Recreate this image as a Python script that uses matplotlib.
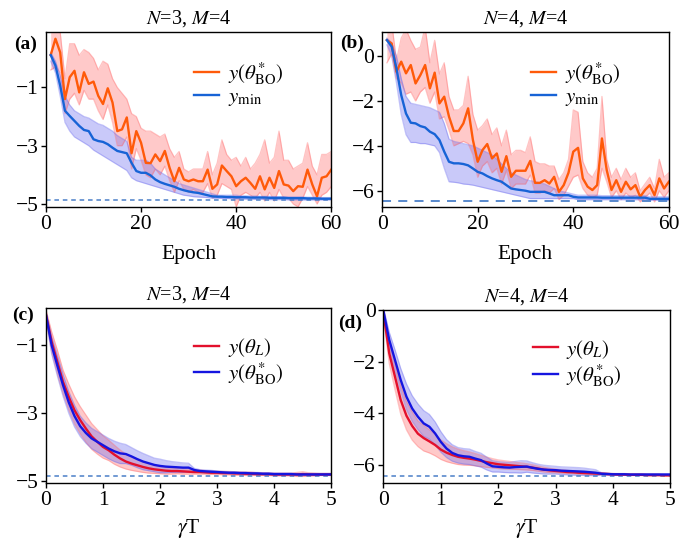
import numpy as np
import matplotlib

matplotlib.use("Agg")
import matplotlib.pyplot as plt

plt.rcParams["font.family"] = ["Liberation Serif", "DejaVu Serif"]
plt.rcParams["mathtext.fontset"] = "stix"
plt.rcParams["axes.linewidth"] = 1.0

# ---- (a) N=3, M=4, vs epoch ----
epochs = list(range(1, 61))
a_bo = [0.11, 0.67, 0.2, -1.4, -0.65, -0.43, -1.17, -0.48, -0.88, -0.8,
        -1.29, -1.57, -1.03, -1.52, -2.5, -2.44, -2.03, -3.26, -2.5, -2.9,
        -3.59, -3.6, -3.3, -3.53, -3.18, -3.76, -4.22, -3.76, -4.16, -4.22,
        -4.16, -4.22, -4.22, -3.82, -4.48, -4.33, -3.68, -3.87, -4.05, -4.39,
        -4.22, -4.1, -4.28, -4.48, -4.05, -4.5, -4.1, -4.45, -3.87, -4.33,
        -4.37, -4.56, -4.39, -4.41, -3.82, -4.33, -4.74, -4.1, -4.05, -3.82]
a_bo_hi = [1.0, 1.3, 0.9, -0.7, 0.5, 0.5, 0.1, 0.3, 0.2, 0.0,
           -0.4, -0.1, -0.2, -0.7, -1.0, -1.2, -1.4, -1.9, -2.0, -2.4,
           -2.5, -2.5, -2.6, -2.7, -2.6, -3.1, -3.4, -3.2, -3.8, -3.9,
           -3.8, -3.8, -3.8, -3.2, -4.0, -3.6, -2.8, -3.3, -3.5, -3.4,
           -3.7, -3.4, -3.8, -3.6, -3.3, -2.8, -3.6, -3.4, -2.5, -3.5,
           -3.5, -3.8, -3.7, -3.6, -2.9, -3.7, -4.0, -3.3, -3.3, -3.2]
a_bo_lo = [-0.4, -0.3, -0.5, -1.9, -1.4, -1.2, -1.6, -1.1, -1.4, -1.4,
           -1.8, -2.1, -1.6, -2.2, -3.0, -3.0, -2.7, -3.8, -3.1, -3.5,
           -4.0, -4.1, -3.8, -4.0, -3.7, -4.2, -4.6, -4.2, -4.5, -4.6,
           -4.5, -4.6, -4.6, -4.3, -4.8, -4.7, -4.3, -4.4, -4.5, -5.1,
           -4.7, -4.6, -4.7, -4.8, -4.6, -4.9, -4.6, -4.9, -4.5, -4.8,
           -4.8, -5.0, -5.1, -4.8, -4.4, -4.7, -5.0, -4.7, -4.6, -4.4]
a_min = [0.11, -0.25, -0.94, -1.8, -1.98, -2.15, -2.32, -2.46, -2.5, -2.78,
         -2.84, -2.87, -2.95, -3.07, -3.18, -3.22, -3.26, -3.59, -3.87, -3.93,
         -3.93, -4.02, -4.16, -4.25, -4.31, -4.36, -4.41, -4.48, -4.53, -4.57,
         -4.6, -4.62, -4.66, -4.7, -4.74, -4.75, -4.75, -4.76, -4.76, -4.77,
         -4.77, -4.77, -4.78, -4.78, -4.78, -4.78, -4.79, -4.79, -4.79, -4.79,
         -4.8, -4.8, -4.8, -4.8, -4.81, -4.81, -4.81, -4.82, -4.82, -4.82]
a_min_hi = [0.2, -0.1, -0.6, -1.3, -1.6, -1.8, -1.9, -2.0, -2.05, -2.15,
            -2.25, -2.3, -2.4, -2.5, -2.65, -2.75, -2.85, -3.4, -3.5, -3.5,
            -3.5, -3.6, -3.8, -3.9, -4.0, -4.1, -4.2, -4.3, -4.35, -4.4,
            -4.45, -4.5, -4.55, -4.6, -4.65, -4.7, -4.7, -4.7, -4.7, -4.7,
            -4.72, -4.72, -4.73, -4.73, -4.74, -4.74, -4.74, -4.75, -4.75, -4.75,
            -4.76, -4.76, -4.76, -4.76, -4.77, -4.77, -4.77, -4.78, -4.78, -4.78]
a_min_lo = [-0.1, -0.5, -1.3, -2.2, -2.5, -2.7, -2.8, -2.9, -3.0, -3.15,
            -3.25, -3.35, -3.45, -3.55, -3.65, -3.75, -3.85, -4.1, -4.2, -4.25,
            -4.3, -4.35, -4.4, -4.45, -4.5, -4.55, -4.6, -4.65, -4.7, -4.72,
            -4.75, -4.76, -4.77, -4.78, -4.8, -4.8, -4.81, -4.81, -4.82, -4.82,
            -4.83, -4.83, -4.83, -4.84, -4.84, -4.84, -4.85, -4.85, -4.85, -4.85,
            -4.86, -4.86, -4.86, -4.86, -4.86, -4.86, -4.86, -4.86, -4.86, -4.86]
a_ref = -4.88

# ---- (b) N=4, M=4, vs epoch ----
b_bo = [0.71, 0.56, -0.7, -0.25, -0.77, -0.4, -1.22, -0.85, -0.4, -1.44,
        -0.74, -2.11, -1.81, -2.7, -3.34, -3.34, -3.0, -2.33, -3.74, -4.71,
        -4.19, -3.92, -4.56, -4.34, -5.16, -4.46, -5.38, -5.11, -5.11, -5.11,
        -4.67, -5.65, -5.65, -5.53, -5.68, -5.38, -6.05, -5.75, -5.2, -4.26,
        -4.09, -5.45, -5.82, -5.97, -5.75, -3.67, -5.08, -5.97, -5.53, -6.05,
        -5.6, -5.94, -5.75, -6.27, -5.97, -5.75, -6.2, -5.45, -5.9, -5.6]
b_bo_hi = [1.5, 1.5, -0.2, 0.8, 1.2, 0.7, 0.3, 0.4, 1.3, -0.3,
           0.7, -0.8, -0.3, -1.8, -2.4, -2.4, -2.2, -0.9, -2.6, -3.3,
           -3.1, -2.8, -3.5, -3.2, -4.0, -3.3, -4.4, -4.2, -4.2, -4.3,
           -3.6, -4.7, -4.8, -4.8, -4.9, -4.9, -5.5, -5.2, -4.6, -2.4,
           -2.5, -4.7, -5.2, -5.4, -5.0, -1.8, -4.6, -5.4, -5.0, -5.5,
           -5.0, -5.4, -5.2, -6.0, -5.7, -5.4, -5.9, -4.6, -5.4, -5.2]
b_bo_lo = [-0.3, 0.1, -1.0, -1.2, -1.7, -1.6, -2.0, -1.6, -1.4, -2.1,
           -1.6, -2.8, -2.7, -3.3, -4.0, -3.9, -3.8, -3.9, -4.4, -5.4,
           -4.9, -4.7, -5.2, -5.0, -5.7, -5.1, -5.9, -5.7, -5.7, -5.7,
           -5.3, -6.1, -6.1, -6.0, -6.1, -5.9, -6.4, -6.2, -5.8, -5.4,
           -5.3, -5.9, -6.2, -6.3, -6.2, -5.0, -5.6, -6.3, -6.0, -6.4,
           -6.1, -6.3, -6.2, -6.5, -6.3, -6.1, -6.5, -6.0, -6.3, -6.0]
b_min = [0.71, 0.42, -0.55, -1.74, -2.56, -2.97, -3.0, -3.12, -3.18, -3.37,
         -3.48, -3.74, -4.26, -4.71, -4.78, -4.78, -4.81, -4.87, -5.01, -5.16,
         -5.23, -5.35, -5.45, -5.53, -5.6, -5.75, -5.9, -5.94, -5.97, -6.0,
         -6.05, -6.05, -6.05, -6.05, -6.12, -6.2, -6.2, -6.2, -6.2, -6.27,
         -6.3, -6.3, -6.3, -6.3, -6.3, -6.31, -6.31, -6.31, -6.31, -6.31,
         -6.31, -6.31, -6.31, -6.31, -6.31, -6.36, -6.36, -6.36, -6.36, -6.36]
b_min_hi = [0.8, 0.6, 0.0, -1.0, -1.8, -2.1, -2.15, -2.2, -2.25, -2.3,
            -2.4, -2.5, -3.0, -3.7, -3.8, -3.85, -3.9, -3.95, -4.0, -4.1,
            -4.2, -4.3, -4.4, -4.6, -4.8, -5.0, -5.2, -5.3, -5.4, -5.5,
            -5.55, -5.6, -5.65, -5.7, -5.8, -5.9, -6.0, -6.05, -6.1, -6.15,
            -6.2, -6.2, -6.2, -6.2, -6.2, -6.22, -6.22, -6.22, -6.22, -6.22,
            -6.22, -6.22, -6.22, -6.22, -6.22, -6.27, -6.27, -6.27, -6.27, -6.27]
b_min_lo = [0.5, 0.0, -1.2, -2.6, -3.5, -3.85, -3.85, -3.9, -3.9, -3.95,
            -4.0, -4.3, -5.0, -5.6, -5.62, -5.65, -5.7, -5.72, -5.75, -5.8,
            -5.85, -5.9, -5.95, -6.0, -6.05, -6.1, -6.15, -6.2, -6.25, -6.3,
            -6.35, -6.35, -6.35, -6.35, -6.35, -6.35, -6.35, -6.35, -6.35, -6.35,
            -6.4, -6.4, -6.4, -6.4, -6.4, -6.4, -6.4, -6.4, -6.4, -6.4,
            -6.4, -6.4, -6.4, -6.4, -6.4, -6.42, -6.42, -6.42, -6.42, -6.42]
b_ref = -6.47

# ---- (c), (d) vs gamma T ----
gT = [0.0, 0.1, 0.2, 0.3, 0.4, 0.5, 0.6, 0.7, 0.8, 0.9,
      1.0, 1.1, 1.2, 1.3, 1.4, 1.5, 1.6, 1.7, 1.8, 1.9,
      2.0, 2.1, 2.2, 2.3, 2.4, 2.5, 2.6, 2.7, 2.8, 2.9,
      3.0, 3.1, 3.2, 3.3, 3.4, 3.5, 3.6, 3.7, 3.8, 3.9,
      4.0, 4.1, 4.2, 4.3, 4.4, 4.5, 4.6, 4.7, 4.8, 4.9, 5.0]

c_L = [-0.1, -0.9, -1.49, -2.08, -2.52, -2.91, -3.2, -3.45, -3.68, -3.84,
       -3.99, -4.09, -4.22, -4.33, -4.42, -4.48, -4.53, -4.58, -4.62, -4.65,
       -4.67, -4.69, -4.7, -4.7, -4.71, -4.72, -4.73, -4.73, -4.74, -4.75,
       -4.75, -4.76, -4.76, -4.77, -4.77, -4.78, -4.78, -4.79, -4.79, -4.79,
       -4.8, -4.8, -4.8, -4.8, -4.8, -4.79, -4.8, -4.8, -4.8, -4.8, -4.8]
c_L_sd = [0.15, 0.3, 0.35, 0.35, 0.38, 0.4, 0.4, 0.4, 0.38, 0.36,
          0.33, 0.3, 0.28, 0.25, 0.22, 0.2, 0.18, 0.16, 0.14, 0.12,
          0.11, 0.1, 0.09, 0.08, 0.08, 0.07, 0.06, 0.06, 0.05, 0.05,
          0.05, 0.05, 0.05, 0.05, 0.05, 0.05, 0.05, 0.04, 0.04, 0.04,
          0.04, 0.04, 0.04, 0.04, 0.06, 0.07, 0.05, 0.04, 0.03, 0.03, 0.03]
c_BO = [-0.1, -1.0, -1.6, -2.18, -2.68, -3.08, -3.38, -3.58, -3.74, -3.84,
        -3.94, -4.04, -4.12, -4.18, -4.2, -4.27, -4.35, -4.42, -4.47, -4.52,
        -4.55, -4.57, -4.58, -4.59, -4.6, -4.6, -4.67, -4.7, -4.71, -4.72,
        -4.73, -4.74, -4.75, -4.75, -4.76, -4.76, -4.77, -4.77, -4.78, -4.78,
        -4.79, -4.79, -4.79, -4.79, -4.8, -4.8, -4.8, -4.8, -4.8, -4.8, -4.8]
c_BO_sd = [0.1, 0.25, 0.3, 0.32, 0.32, 0.32, 0.3, 0.3, 0.3, 0.3,
           0.3, 0.3, 0.3, 0.3, 0.28, 0.26, 0.25, 0.24, 0.22, 0.2,
           0.2, 0.18, 0.16, 0.15, 0.14, 0.13, 0.05, 0.04, 0.04, 0.04,
           0.03, 0.03, 0.03, 0.03, 0.03, 0.03, 0.03, 0.03, 0.03, 0.03,
           0.03, 0.03, 0.03, 0.03, 0.03, 0.03, 0.03, 0.03, 0.03, 0.03, 0.03]
c_ref = -4.85

d_L = [-0.1, -1.67, -2.58, -3.49, -4.1, -4.5, -4.8, -4.97, -5.1, -5.24,
       -5.42, -5.54, -5.63, -5.7, -5.74, -5.77, -5.81, -5.86, -5.91, -5.95,
       -5.99, -6.01, -6.03, -6.05, -6.07, -6.09, -6.12, -6.16, -6.2, -6.23,
       -6.25, -6.27, -6.29, -6.3, -6.32, -6.33, -6.34, -6.35, -6.36, -6.37,
       -6.38, -6.39, -6.39, -6.4, -6.4, -6.4, -6.41, -6.41, -6.41, -6.42, -6.42]
d_L_sd = [0.2, 0.4, 0.5, 0.55, 0.55, 0.55, 0.5, 0.5, 0.45, 0.42,
          0.38, 0.35, 0.32, 0.3, 0.28, 0.26, 0.24, 0.22, 0.2, 0.18,
          0.17, 0.16, 0.15, 0.14, 0.13, 0.12, 0.11, 0.1, 0.09, 0.08,
          0.07, 0.06, 0.06, 0.05, 0.05, 0.05, 0.05, 0.04, 0.04, 0.04,
          0.03, 0.03, 0.03, 0.03, 0.03, 0.03, 0.03, 0.03, 0.03, 0.03, 0.03]
d_BO = [-0.05, -1.15, -1.93, -2.71, -3.36, -3.82, -4.14, -4.4, -4.53, -4.79,
        -5.12, -5.38, -5.55, -5.64, -5.68, -5.7, -5.77, -5.83, -5.96, -6.07,
        -6.09, -6.11, -6.12, -6.1, -6.09, -6.08, -6.13, -6.17, -6.2, -6.21,
        -6.22, -6.24, -6.25, -6.26, -6.27, -6.28, -6.3, -6.32, -6.36, -6.37,
        -6.38, -6.38, -6.38, -6.39, -6.39, -6.39, -6.39, -6.39, -6.39, -6.39, -6.39]
d_BO_sd = [0.15, 0.3, 0.4, 0.45, 0.5, 0.5, 0.5, 0.5, 0.48, 0.45,
           0.4, 0.35, 0.32, 0.3, 0.3, 0.3, 0.28, 0.27, 0.25, 0.22,
           0.2, 0.2, 0.2, 0.22, 0.24, 0.22, 0.2, 0.18, 0.17, 0.16,
           0.15, 0.15, 0.15, 0.15, 0.15, 0.14, 0.13, 0.12, 0.04, 0.03,
           0.03, 0.03, 0.03, 0.03, 0.03, 0.03, 0.03, 0.03, 0.03, 0.03, 0.03]
d_ref = -6.46

ORANGE = "#ff5a0a"
BLUE_A = "#1763d6"
RED = "#e3102c"
BLUE_C = "#1515e0"
PINK = "#ff6b6b"
LAV = "#6b6bef"
REFC = "#4a7fc8"

fig = plt.figure(figsize=(6.96, 5.43), dpi=100)
ax_a = fig.add_axes([0.066, 0.619, 0.410, 0.322])
ax_b = fig.add_axes([0.549, 0.619, 0.412, 0.322])
ax_c = fig.add_axes([0.066, 0.110, 0.410, 0.323])
ax_d = fig.add_axes([0.551, 0.110, 0.412, 0.319])


def band(ax, x, lo, hi, color):
    ax.fill_between(x, lo, hi, color=color, alpha=0.36, lw=0)
    ax.plot(x, lo, color=color, alpha=0.4, lw=0.9)
    ax.plot(x, hi, color=color, alpha=0.4, lw=0.9)


# (a)
band(ax_a, epochs, a_bo_lo, a_bo_hi, PINK)
band(ax_a, epochs, a_min_lo, a_min_hi, LAV)
ax_a.axhline(a_ref, color=REFC, lw=1.1, ls=(0, (3, 2.5)))
ax_a.plot(epochs, a_bo, color=ORANGE, lw=1.7, label=r"$y(\theta^{*}_{\rm BO})$")
ax_a.plot(epochs, a_min, color=BLUE_A, lw=1.7, label=r"$y_{\rm min}$")
ax_a.set_xlim(0, 60)
ax_a.set_ylim(-5.1, 0.9)
ax_a.set_yticks([-1, -3, -5])
ax_a.set_xticks([0, 20, 40, 60])
ax_a.set_xlabel("Epoch", fontsize=15.5, labelpad=8)

# (b)
band(ax_b, epochs, b_bo_lo, b_bo_hi, PINK)
band(ax_b, epochs, b_min_lo, b_min_hi, LAV)
ax_b.axhline(b_ref, color=REFC, lw=1.3, ls=(0, (5, 4)))
ax_b.plot(epochs, b_bo, color=ORANGE, lw=1.7, label=r"$y(\theta^{*}_{\rm BO})$")
ax_b.plot(epochs, b_min, color=BLUE_A, lw=1.7, label=r"$y_{\rm min}$")
ax_b.set_xlim(0, 60)
ax_b.set_ylim(-6.72, 1.07)
ax_b.set_yticks([0, -2, -4, -6])
ax_b.set_xticks([0, 20, 40, 60])
ax_b.set_xlabel("Epoch", fontsize=15.5, labelpad=8)

# (c)
c_L_arr, c_BO_arr = np.array(c_L), np.array(c_BO)
band(ax_c, gT, c_L_arr - c_L_sd, c_L_arr + c_L_sd, PINK)
band(ax_c, gT, c_BO_arr - c_BO_sd, c_BO_arr + c_BO_sd, LAV)
ax_c.axhline(c_ref, color=REFC, lw=1.1, ls=(0, (3, 2.5)))
ax_c.plot(gT, c_L, color=RED, lw=1.7, label=r"$y(\theta_L)$")
ax_c.plot(gT, c_BO, color=BLUE_C, lw=1.7, label=r"$y(\theta^{*}_{\rm BO})$")
ax_c.set_xlim(0, 5)
ax_c.set_ylim(-5.06, 0.1)
ax_c.set_yticks([-1, -3, -5])
ax_c.set_xticks([0, 1, 2, 3, 4, 5])
ax_c.set_xlabel(r"$\gamma$T", fontsize=15.5, labelpad=5)

# (d)
d_L_arr, d_BO_arr = np.array(d_L), np.array(d_BO)
band(ax_d, gT, d_L_arr - d_L_sd, d_L_arr + d_L_sd, PINK)
band(ax_d, gT, d_BO_arr - d_BO_sd, d_BO_arr + d_BO_sd, LAV)
ax_d.axhline(d_ref, color=REFC, lw=1.1, ls=(0, (3, 2.5)))
ax_d.plot(gT, d_L, color=RED, lw=1.7, label=r"$y(\theta_L)$")
ax_d.plot(gT, d_BO, color=BLUE_C, lw=1.7, label=r"$y(\theta^{*}_{\rm BO})$")
ax_d.set_xlim(0, 5)
ax_d.set_ylim(-6.73, 0.01)
ax_d.set_yticks([0, -2, -4, -6])
ax_d.set_xticks([0, 1, 2, 3, 4, 5])
ax_d.set_xlabel(r"$\gamma$T", fontsize=15.5, labelpad=5)

titles = [r"$N$=3, $M$=4", r"$N$=4, $M$=4", r"$N$=3, $M$=4", r"$N$=4, $M$=4"]
labels = ["(a)", "(b)", "(c)", "(d)"]
lab_pos = [(-0.07, 0.93), (-0.105, 0.935), (-0.08, 0.96), (-0.115, 0.925)]
for ax, t, lab, pos in zip([ax_a, ax_b, ax_c, ax_d], titles, labels, lab_pos):
    ax.set_title(t, fontsize=14.5, pad=6)
    ax.tick_params(labelsize=15.5, direction="out", length=3.5, width=1, pad=2)
    ax.legend(loc="upper left", bbox_to_anchor=(0.52, 0.84), frameon=False,
              fontsize=15, handlelength=1.2, handletextpad=0.4,
              labelspacing=0.05, borderaxespad=0, borderpad=0)
    ax.text(pos[0], pos[1], lab, transform=ax.transAxes, fontsize=14,
            fontweight="bold", ha="center", va="center")

fig.savefig("out.png", dpi=100)
